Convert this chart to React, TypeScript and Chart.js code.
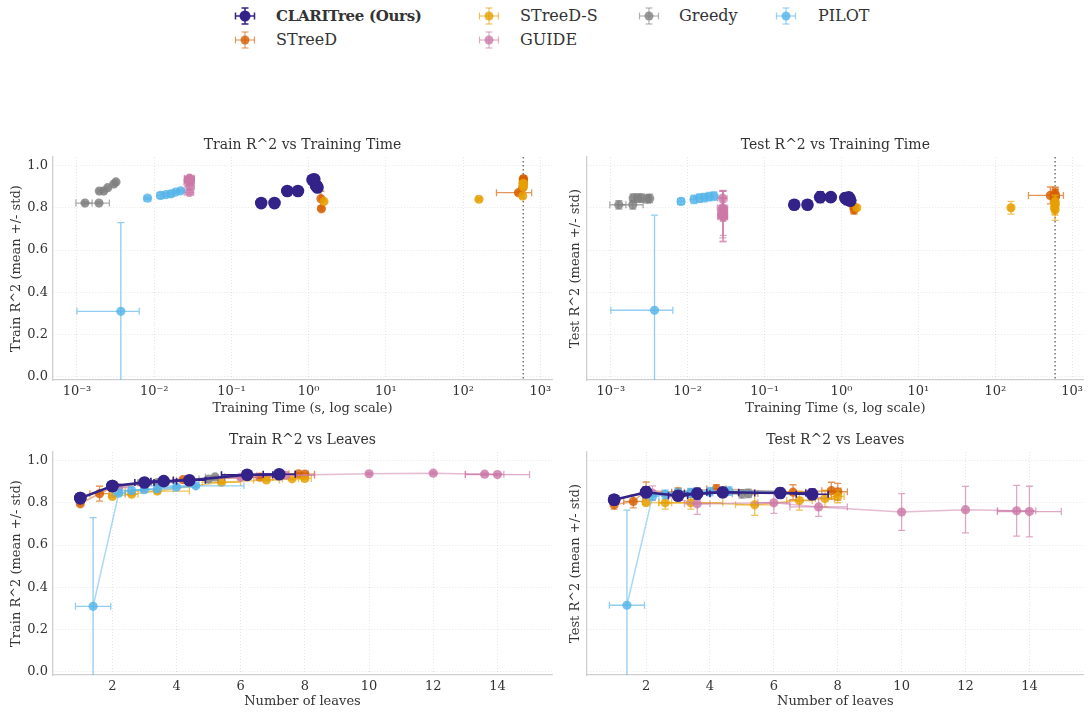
import React, { useEffect, useRef } from "react";
import { Chart, registerables } from "chart.js";

Chart.register(...registerables);

const FONT_FAMILY = "'DejaVu Serif', 'Liberation Serif', serif";
const TEXT_COLOR = "#333333";

// ---------------- data ----------------
const methodNames = ["CLARITree (Ours)", "STreeD", "STreeD-S", "GUIDE", "Greedy", "PILOT"];
const methodColors = ["#332288", "#D55E00", "#E69F00", "#CC79A7", "#808080", "#56B4E9"];

// CLARITree (Ours)
const clariTime = [0.243, 0.361, 0.528, 0.726, 1.3, 1.27, 1.24, 1.12, 1.18];
const clariTimeStd = [0.01, 0.015, 0.02, 0.03, 0.05, 0.05, 0.05, 0.05, 0.05];
const clariLeaves = [1.0, 1.0, 2.0, 2.0, 3.0, 3.6, 4.4, 6.2, 7.2];
const clariLeavesStd = [0, 0, 0, 0, 0.3, 0.4, 0.5, 0.8, 0.5];
const clariTrain = [0.822, 0.822, 0.879, 0.879, 0.896, 0.902, 0.906, 0.932, 0.935];
const clariTrainStd = [0.008, 0.008, 0.006, 0.006, 0.006, 0.006, 0.006, 0.005, 0.005];
const clariTest = [0.814, 0.814, 0.85, 0.85, 0.833, 0.843, 0.849, 0.846, 0.84];
const clariTestStd = [0.02, 0.02, 0.025, 0.02, 0.02, 0.025, 0.02, 0.022, 0.025];

// STreeD
const streedTime = [1.46, 1.44, 520, 590, 600, 600, 605, 600];
const streedTimeStd = [0.05, 0.05, 250, 40, 40, 40, 40, 40];
const streedLeaves = [1.0, 1.6, 2.0, 3.0, 4.2, 6.6, 7.8, 8.0];
const streedLeavesStd = [0, 0.3, 0, 0.2, 0.3, 0.4, 0.3, 0.3];
const streedTrain = [0.795, 0.843, 0.871, 0.895, 0.909, 0.921, 0.937, 0.935];
const streedTrainStd = [0.005, 0.035, 0.008, 0.006, 0.006, 0.006, 0.005, 0.005];
const streedTest = [0.79, 0.806, 0.858, 0.85, 0.866, 0.85, 0.857, 0.852];
const streedTestStd = [0.02, 0.03, 0.04, 0.02, 0.02, 0.035, 0.04, 0.04];

// STreeD-S
const streedsTime = [1.58, 160, 590, 600, 600, 600, 600];
const streedsTimeStd = [0.05, 10, 30, 30, 30, 30, 30];
const streedsLeaves = [2.0, 2.6, 3.4, 5.4, 6.8, 7.6, 8.0];
const streedsLeavesStd = [0, 0.2, 1.0, 0.6, 0.4, 0.3, 0.2];
const streedsTrain = [0.83, 0.84, 0.855, 0.897, 0.908, 0.913, 0.915];
const streedsTrainStd = [0.005, 0.006, 0.01, 0.006, 0.006, 0.005, 0.005];
const streedsTest = [0.8, 0.8, 0.8, 0.79, 0.81, 0.82, 0.83];
const streedsTestStd = [0.01, 0.03, 0.03, 0.05, 0.045, 0.04, 0.03];

// GUIDE
const guideTime = [0.0285, 0.029, 0.0283, 0.0288, 0.029, 0.0286, 0.0289, 0.0287];
const guideTimeStd = [0.004, 0.004, 0.004, 0.004, 0.004, 0.004, 0.004, 0.004];
const guideLeaves = [2.2, 3.6, 6.0, 7.4, 10, 12, 13.6, 14];
const guideLeavesStd = [0.3, 0.4, 0.5, 0.9, 0, 0, 0.6, 1.0];
const guideTrain = [0.872, 0.9, 0.92, 0.93, 0.937, 0.94, 0.935, 0.933];
const guideTrainStd = [0.01, 0.01, 0.01, 0.008, 0.005, 0.005, 0.005, 0.005];
const guideTest = [0.845, 0.795, 0.8, 0.78, 0.756, 0.767, 0.762, 0.758];
const guideTestStd = [0.035, 0.05, 0.05, 0.045, 0.087, 0.11, 0.12, 0.12];

// Greedy
const greedyTime = [0.00127, 0.00193, 0.00195, 0.00222, 0.0025, 0.003, 0.0032];
const greedyTimeStd = [0.0003, 0.0007, 0.0001, 0.0001, 0.0001, 0.0001, 0.0001];
const greedyLeaves = [1, 1, 2, 2, 3.4, 5.0, 5.2];
const greedyLeavesStd = [0, 0, 0, 0, 0.6, 0.3, 0.3];
const greedyTrain = [0.822, 0.822, 0.879, 0.879, 0.895, 0.912, 0.922];
const greedyTrainStd = [0.005, 0.005, 0.005, 0.005, 0.005, 0.005, 0.005];
const greedyTest = [0.814, 0.814, 0.846, 0.846, 0.846, 0.842, 0.844];
const greedyTestStd = [0.02, 0.02, 0.02, 0.02, 0.02, 0.02, 0.02];

// PILOT
const pilotTime = [0.0037, 0.0082, 0.0121, 0.0142, 0.0165, 0.019, 0.022];
const pilotTimeStd = [0.0027, 0.0008, 0.0012, 0.001, 0.001, 0.0012, 0.0015];
const pilotLeaves = [1.4, 2.2, 2.6, 3.0, 3.4, 4.0, 4.6];
const pilotLeavesStd = [0.55, 0.2, 0.3, 0.4, 0.5, 0.6, 1.5];
const pilotTrain = [0.31, 0.845, 0.858, 0.862, 0.866, 0.874, 0.88];
const pilotTrainStd = [0.42, 0.005, 0.015, 0.008, 0.015, 0.008, 0.008];
const pilotTest = [0.315, 0.83, 0.84, 0.845, 0.848, 0.852, 0.855];
const pilotTestStd = [0.45, 0.015, 0.02, 0.02, 0.02, 0.02, 0.02];

// ticks
const timeTicks = [1e-3, 1e-2, 1e-1, 1, 10, 100, 1000];
const timeTickLabels = ["10⁻³", "10⁻²", "10⁻¹", "10⁰", "10¹", "10²", "10³"];
const leafTicks = [2, 4, 6, 8, 10, 12, 14];
const r2Ticks = [0, 0.2, 0.4, 0.6, 0.8, 1.0];
const TIME_LIMIT = 600;

// ---------------- helpers ----------------
type MethodTable = {
  name: string; color: string; main: boolean;
  time: number[]; timeStd: number[]; leaves: number[]; leavesStd: number[];
  train: number[]; trainStd: number[]; test: number[]; testStd: number[];
};

const METHODS: MethodTable[] = [
  { name: methodNames[0], color: methodColors[0], main: true, time: clariTime, timeStd: clariTimeStd, leaves: clariLeaves, leavesStd: clariLeavesStd, train: clariTrain, trainStd: clariTrainStd, test: clariTest, testStd: clariTestStd },
  { name: methodNames[1], color: methodColors[1], main: false, time: streedTime, timeStd: streedTimeStd, leaves: streedLeaves, leavesStd: streedLeavesStd, train: streedTrain, trainStd: streedTrainStd, test: streedTest, testStd: streedTestStd },
  { name: methodNames[2], color: methodColors[2], main: false, time: streedsTime, timeStd: streedsTimeStd, leaves: streedsLeaves, leavesStd: streedsLeavesStd, train: streedsTrain, trainStd: streedsTrainStd, test: streedsTest, testStd: streedsTestStd },
  { name: methodNames[3], color: methodColors[3], main: false, time: guideTime, timeStd: guideTimeStd, leaves: guideLeaves, leavesStd: guideLeavesStd, train: guideTrain, trainStd: guideTrainStd, test: guideTest, testStd: guideTestStd },
  { name: methodNames[4], color: methodColors[4], main: false, time: greedyTime, timeStd: greedyTimeStd, leaves: greedyLeaves, leavesStd: greedyLeavesStd, train: greedyTrain, trainStd: greedyTrainStd, test: greedyTest, testStd: greedyTestStd },
  { name: methodNames[5], color: methodColors[5], main: false, time: pilotTime, timeStd: pilotTimeStd, leaves: pilotLeaves, leavesStd: pilotLeavesStd, train: pilotTrain, trainStd: pilotTrainStd, test: pilotTest, testStd: pilotTestStd },
];

function rgba(hex: string, a: number) {
  const h = hex.replace("#", "");
  const r = parseInt(h.slice(0, 2), 16);
  const g = parseInt(h.slice(2, 4), 16);
  const b = parseInt(h.slice(4, 6), 16);
  return `rgba(${r},${g},${b},${a})`;
}

// draw order: index 0 drawn last (on top)
const DRAW_ORDER = [0, 5, 4, 3, 2, 1];

function buildDatasets(xKind: "time" | "leaves", yKind: "train" | "test") {
  return DRAW_ORDER.map((mi) => {
    const m = METHODS[mi];
    const xs = xKind === "time" ? m.time : m.leaves;
    const xe = xKind === "time" ? m.timeStd : m.leavesStd;
    const ys = yKind === "train" ? m.train : m.test;
    const ye = yKind === "train" ? m.trainStd : m.testStd;
    return {
      label: m.name,
      data: xs.map((x, i) => ({ x, y: ys[i] })),
      xErr: xe,
      yErr: ye,
      errColor: m.main ? m.color : rgba(m.color, 0.65),
      errWidth: m.main ? 1.6 : 1.3,
      capSize: 3.5,
      showLine: xKind === "leaves",
      borderColor: m.main ? m.color : rgba(m.color, 0.5),
      borderWidth: m.main ? 2.5 : 1.5,
      pointRadius: m.main ? 6.3 : 4.6,
      pointHoverRadius: m.main ? 6.3 : 4.6,
      pointBackgroundColor: m.main ? m.color : rgba(m.color, 0.82),
      pointBorderWidth: 0,
      pointBorderColor: "rgba(0,0,0,0)",
      fill: false,
      tension: 0,
    };
  });
}

const errorBarPlugin = {
  id: "errorBars",
  beforeDatasetDraw(chart: any, args: any) {
    const ds = chart.data.datasets[args.index];
    if (!ds || !ds.xErr) return;
    const { ctx, chartArea } = chart;
    const xs = chart.scales.x;
    const ys = chart.scales.y;
    const isLog = xs.type === "logarithmic";
    const cap = ds.capSize;
    ctx.save();
    ctx.beginPath();
    ctx.rect(chartArea.left, chartArea.top, chartArea.right - chartArea.left, chartArea.bottom - chartArea.top);
    ctx.clip();
    ctx.strokeStyle = ds.errColor;
    ctx.lineWidth = ds.errWidth;
    ds.data.forEach((p: any, i: number) => {
      const px = xs.getPixelForValue(p.x);
      const py = ys.getPixelForValue(p.y);
      const xe = ds.xErr[i] || 0;
      const ye = ds.yErr[i] || 0;
      ctx.beginPath();
      if (xe > 0) {
        const lo = p.x - xe;
        const hi = p.x + xe;
        const x1 = !isLog || lo > 0 ? xs.getPixelForValue(lo) : chartArea.left - 20;
        const x2 = xs.getPixelForValue(hi);
        ctx.moveTo(x1, py); ctx.lineTo(x2, py);
        ctx.moveTo(x1, py - cap); ctx.lineTo(x1, py + cap);
        ctx.moveTo(x2, py - cap); ctx.lineTo(x2, py + cap);
      }
      if (ye > 0) {
        const y1 = ys.getPixelForValue(p.y - ye);
        const y2 = ys.getPixelForValue(p.y + ye);
        ctx.moveTo(px, y1); ctx.lineTo(px, y2);
        ctx.moveTo(px - cap, y1); ctx.lineTo(px + cap, y1);
        ctx.moveTo(px - cap, y2); ctx.lineTo(px + cap, y2);
      }
      ctx.stroke();
    });
    ctx.restore();
  },
};

const decorPlugin = {
  id: "panelDecor",
  beforeDatasetsDraw(chart: any, _args: any, opts: any) {
    if (opts.vline == null) return;
    const { ctx, chartArea } = chart;
    const x = chart.scales.x.getPixelForValue(opts.vline);
    ctx.save();
    ctx.strokeStyle = "rgba(90,90,90,0.85)";
    ctx.lineWidth = 1.5;
    ctx.setLineDash([1.5, 2.5]);
    ctx.beginPath();
    ctx.moveTo(x, chartArea.top);
    ctx.lineTo(x, chartArea.bottom);
    ctx.stroke();
    ctx.restore();
  },
  afterDraw(chart: any, _args: any, opts: any) {
    if (!opts.title) return;
    const { ctx, chartArea } = chart;
    ctx.save();
    ctx.font = `14px ${FONT_FAMILY}`;
    ctx.fillStyle = TEXT_COLOR;
    ctx.textAlign = "center";
    ctx.textBaseline = "middle";
    ctx.fillText(opts.title, (chartArea.left + chartArea.right) / 2, chartArea.top - 11.5);
    ctx.restore();
  },
};

type Panel = {
  left: number; top: number; width: number; height: number;
  areaLeft: number; areaTop: number; areaRight: number; areaBottom: number;
  title: string; xTitle: string; yTitle: string;
  xKind: "time" | "leaves"; yKind: "train" | "test";
  showYLabels: boolean; yTitlePad: number;
};

const PANELS: Panel[] = [
  { left: 0, top: 130, width: 560, height: 290, areaLeft: 53, areaTop: 157, areaRight: 552, areaBottom: 380,
    title: "Train R^2 vs Training Time", xTitle: "Training Time (s, log scale)", yTitle: "Train R^2 (mean +/- std)",
    xKind: "time", yKind: "train", showYLabels: true, yTitlePad: 9 },
  { left: 560, top: 130, width: 530, height: 290, areaLeft: 587, areaTop: 157, areaRight: 1086, areaBottom: 380,
    title: "Test R^2 vs Training Time", xTitle: "Training Time (s, log scale)", yTitle: "Test R^2 (mean +/- std)",
    xKind: "time", yKind: "test", showYLabels: false, yTitlePad: 8 },
  { left: 0, top: 425, width: 560, height: 288, areaLeft: 53, areaTop: 452, areaRight: 552, areaBottom: 675,
    title: "Train R^2 vs Leaves", xTitle: "Number of leaves", yTitle: "Train R^2 (mean +/- std)",
    xKind: "leaves", yKind: "train", showYLabels: true, yTitlePad: 9 },
  { left: 560, top: 425, width: 530, height: 288, areaLeft: 587, areaTop: 452, areaRight: 1086, areaBottom: 675,
    title: "Test R^2 vs Leaves", xTitle: "Number of leaves", yTitle: "Test R^2 (mean +/- std)",
    xKind: "leaves", yKind: "test", showYLabels: false, yTitlePad: 8 },
];

const gridOpts = { color: "rgba(0,0,0,0.13)", lineWidth: 0.8, drawTicks: false };
const borderOpts = { display: true, color: "#cfcfcf", width: 1.3, dash: [1, 2] };

function ChartPanel({ panel }: { panel: Panel }) {
  const ref = useRef<HTMLCanvasElement>(null);
  useEffect(() => {
    const yAxisW = panel.areaLeft - panel.left;
    const xAxisH = panel.top + panel.height - panel.areaBottom;
    const tickFont = { family: FONT_FAMILY, size: 13 };
    const xScale: any =
      panel.xKind === "time"
        ? {
            type: "logarithmic",
            min: Math.pow(10, -3.31),
            max: Math.pow(10, 3.15),
            bounds: "data",
            afterBuildTicks: (s: any) => { s.ticks = timeTicks.map((v) => ({ value: v, major: true })); },
            ticks: { callback: (_v: any, i: number) => timeTickLabels[i], font: tickFont, color: TEXT_COLOR, padding: 4, maxRotation: 0, autoSkip: false },
          }
        : {
            type: "linear",
            min: 0.15,
            max: 15.7,
            bounds: "data",
            afterBuildTicks: (s: any) => { s.ticks = leafTicks.map((v) => ({ value: v })); },
            ticks: { callback: (v: any) => String(v), font: tickFont, color: TEXT_COLOR, padding: 4, maxRotation: 0, autoSkip: false },
          };
    xScale.grid = gridOpts;
    xScale.border = borderOpts;
    xScale.title = { display: true, text: panel.xTitle, font: { family: FONT_FAMILY, size: 13 }, color: TEXT_COLOR, padding: { top: 0, bottom: 4 } };
    xScale.afterFit = (s: any) => { s.height = xAxisH; };

    const yScale: any = {
      type: "linear",
      min: -0.015,
      max: 1.04,
      bounds: "data",
      afterBuildTicks: (s: any) => { s.ticks = r2Ticks.map((v) => ({ value: v })); },
      ticks: { display: panel.showYLabels, callback: (v: any) => Number(v).toFixed(1), font: tickFont, color: TEXT_COLOR, padding: 5 },
      grid: gridOpts,
      border: borderOpts,
      title: { display: true, text: panel.yTitle, font: { family: FONT_FAMILY, size: 13 }, color: TEXT_COLOR, padding: { top: panel.yTitlePad, bottom: 0 } },
      afterFit: (s: any) => { s.width = yAxisW; },
    };

    const chart = new Chart(ref.current as HTMLCanvasElement, {
      type: "scatter",
      data: { datasets: buildDatasets(panel.xKind, panel.yKind) as any },
      options: {
        responsive: false,
        animation: false,
        devicePixelRatio: 1,
        layout: { padding: { left: 0, top: panel.areaTop - panel.top, right: panel.left + panel.width - panel.areaRight, bottom: 0 } },
        scales: { x: xScale, y: yScale },
        plugins: {
          legend: { display: false },
          tooltip: { enabled: false },
          title: { display: false },
          panelDecor: { title: panel.title, vline: panel.xKind === "time" ? TIME_LIMIT : null },
        } as any,
      },
      plugins: [errorBarPlugin, decorPlugin],
    } as any);
    return () => chart.destroy();
  }, []);
  return (
    <canvas
      ref={ref}
      width={panel.width}
      height={panel.height}
      style={{ position: "absolute", left: panel.left, top: panel.top, width: panel.width, height: panel.height, display: "block" }}
    />
  );
}

function LegendGlyph({ color, main }: { color: string; main: boolean }) {
  const stroke = main ? color : rgba(color, 0.6);
  const fill = main ? color : rgba(color, 0.8);
  const w = main ? 1.5 : 1.2;
  return (
    <svg width={24} height={20} viewBox="0 0 24 20" style={{ display: "block" }}>
      <g stroke={stroke} strokeWidth={w}>
        <line x1={2.5} y1={10} x2={21.5} y2={10} />
        <line x1={2.5} y1={6.5} x2={2.5} y2={13.5} />
        <line x1={21.5} y1={6.5} x2={21.5} y2={13.5} />
        <line x1={12} y1={2} x2={12} y2={18} />
        <line x1={8.5} y1={2} x2={15.5} y2={2} />
        <line x1={8.5} y1={18} x2={15.5} y2={18} />
      </g>
      <circle cx={12} cy={10} r={main ? 5.5 : 4.5} fill={fill} />
    </svg>
  );
}

const legendColX = [245, 489, 649, 786];
const legendTextX = [276, 520, 679, 818];
const legendRowY = [16, 40];
// [method index, column, row]
const legendSlots = [
  [0, 0, 0],
  [1, 0, 1],
  [2, 1, 0],
  [3, 1, 1],
  [4, 2, 0],
  [5, 3, 0],
];

function Legend() {
  return (
    <>
      {legendSlots.map(([mi, c, r]) => {
        const m = METHODS[mi];
        return (
          <React.Fragment key={m.name}>
            <div style={{ position: "absolute", left: legendColX[c] - 12, top: legendRowY[r] - 10 }}>
              <LegendGlyph color={m.color} main={m.main} />
            </div>
            <div
              style={{
                position: "absolute",
                left: legendTextX[c],
                top: legendRowY[r],
                transform: "translateY(-50%)",
                fontFamily: FONT_FAMILY,
                fontSize: m.main ? 15 : 16,
                lineHeight: "18px",
                color: TEXT_COLOR,
                fontWeight: m.main ? "bold" : "normal",
                letterSpacing: m.main ? "-0.3px" : "normal",
                whiteSpace: "nowrap",
              }}
            >
              {m.name}
            </div>
          </React.Fragment>
        );
      })}
    </>
  );
}

export default function App() {
  return (
    <div style={{ position: "fixed", left: 0, top: 0, width: 1090, height: 713, background: "#ffffff", overflow: "hidden" }}>
      <Legend />
      {PANELS.map((p, i) => (
        <ChartPanel key={i} panel={p} />
      ))}
    </div>
  );
}
